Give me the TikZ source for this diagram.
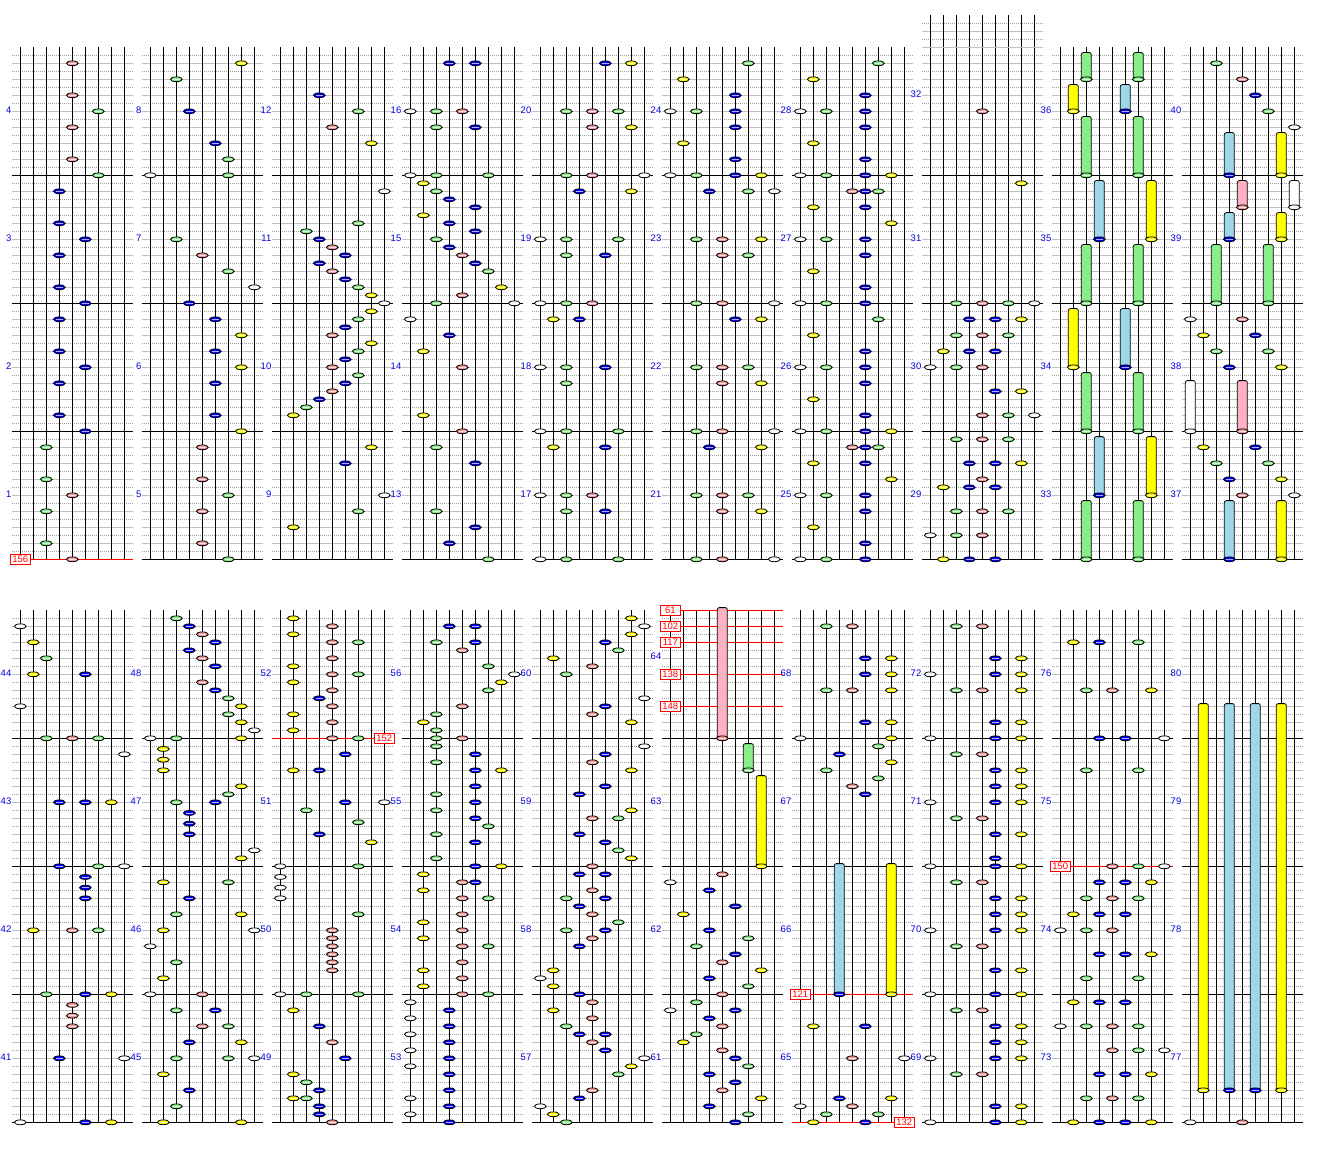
\documentclass[tikz,border=0pt]{standalone}
\usepackage{fontspec}
\setmainfont{Liberation Sans}
\definecolor{nw}{HTML}{FFFFFF}
\definecolor{ny}{HTML}{FFFF00}
\definecolor{ng}{HTML}{88EE88}
\definecolor{nb}{HTML}{0000FF}
\definecolor{np}{HTML}{F49A9A}
\definecolor{lw}{HTML}{FFFFFF}
\definecolor{ly}{HTML}{FFFF00}
\definecolor{lg}{HTML}{88EE88}
\definecolor{lb}{HTML}{9ED8E8}
\definecolor{lp}{HTML}{FFB0C4}
\definecolor{gridsolid}{HTML}{C0C0C0}
\definecolor{griddot}{HTML}{A0A0A0}
\definecolor{lblblue}{HTML}{0000E0}
\definecolor{mkred}{HTML}{FF0000}
\newcommand\lanecol[1]{\ifcase#1\or nw\or ny\or ng\or nb\or np\or nb\or ng\or ny\or nw\fi}
\newcommand\lncol[1]{\ifcase#1\or lw\or ly\or lg\or lb\or lp\or lb\or lg\or ly\or lw\fi}
\tikzset{
 notebody/.style={draw=black, line width=0.8pt},
 notestripe/.style={line width=0.8pt},
 lnbody/.style={draw=black, line width=0.8pt, rounded corners=2pt},
 lane/.style={black, line width=0.9pt},
 barline/.style={black, line width=0.9pt},
 gridline/.style={gridsolid, line width=0.9pt},
 dotline/.style={griddot, line width=0.9pt, dash pattern=on 1pt off 1pt},
 redline/.style={mkred, line width=0.9pt},
 redbox/.style={draw=mkred, fill=white, text=mkred, line width=0.9pt, inner sep=0pt, minimum width=20.5pt, minimum height=10pt, font=\fontsize{9.5}{10}\selectfont},
 mlabel/.style={text=lblblue, inner sep=0pt, anchor=east, font=\fontsize{9.5}{10}\selectfont},
}
\newcommand\NoteAt[3]{%
 \path[notebody, fill=#3] (#1,#2) ellipse [x radius=5.9pt, y radius=2.4pt];
 \draw[notestripe, #3!30!white] ({#1-3.5},#2) -- ({#1+3.5},#2);}
\newcommand\PN[3]{%
 \foreach \l/\n in {#3}{%
  \pgfmathsetmacro\xx{20.33+130*#1+13*(\l-1)}%
  \pgfmathsetmacro\yy{47.3+563*#2+8*\n}%
  \edef\tmp{\noexpand\NoteAt{\xx}{\yy}{\lanecol{\l}}}\tmp}}
\newcommand\LNdraw[5]{%
 \path[lnbody, fill=#4] ({#1-5},#2) rectangle ({#1+5},#3);
 \NoteAt{#1}{#3}{#5}}
\newcommand\LNs[3]{%
 \foreach \l/\a/\b in {#3}{%
  \pgfmathsetmacro\xx{20.33+130*#1+13*(\l-1)}%
  \pgfmathsetmacro\yt{47.3+563*#2+8*\a-2.7}%
  \pgfmathsetmacro\yh{47.3+563*#2+8*\b}%
  \edef\tmp{\noexpand\LNdraw{\xx}{\yt}{\yh}{\lncol{\l}}{\lanecol{\l}}}\tmp}}
\begin{document}
\begin{tikzpicture}[x=1pt,y=-1pt]
\useasboundingbox (0,0) rectangle (1328,1150);
\fill[white] (0,0) rectangle (1328,1150);
% grid
\foreach \p in {0,...,9}{\foreach \r in {0,1}{
 \pgfmathsetmacro\xL{12+130*\p}
 \pgfmathsetmacro\xR{132.7+130*\p}
 \pgfmathsetmacro\yO{47.3+563*\r}
 \foreach \k in {1,3,...,63}{\draw[dotline] (\xL,\yO+8*\k) -- (\xR,\yO+8*\k);}
 \foreach \k in {2,4,...,62}{\draw[gridline] (\xL,\yO+8*\k) -- (\xR,\yO+8*\k);}
 \foreach \k in {0,...,8}{\draw[lane] (\xL+8.33+13*\k,\yO) -- (\xL+8.33+13*\k,\yO+512);}
 \foreach \k in {16,32,48,64}{\draw[barline] (\xL,\yO+8*\k) -- (\xR,\yO+8*\k);}
 \foreach \j in {1,...,4}{
  \pgfmathtruncatemacro\m{40*\r+4*\p+\j}
  \pgfmathsetmacro\yl{\yO+575-128*\j}
  \ifnum\m=32 \else\ifnum\m=64 \else
  \node[mlabel] (m\m) at (\xL-0.5,\yl) {\m};
  \fi\fi}
}}
% extended top of panel 8 (measure 32 in 5/4)
\foreach \k in {-3,-1}{\draw[dotline] (922,47.3+8*\k) -- (1042.7,47.3+8*\k);}
\foreach \k in {-2,0}{\draw[gridline] (922,47.3+8*\k) -- (1042.7,47.3+8*\k);}
\foreach \k in {0,...,8}{\draw[lane] (930.33+13*\k,15.3) -- (930.33+13*\k,47.3);}
\node[mlabel] (m32) at (921.5,94.3) {32};
\node[mlabel] (m64) at (661.5,656.3) {64};
% red marker lines
\draw[redline] (12,559.3) -- (132.7,559.3);
\draw[redline] (272,738.3) -- (392.7,738.3);
\foreach \yy in {610.3,626.3,642.3,674.3,706.3}{\draw[redline] (662,\yy) -- (782.7,\yy);}
\draw[redline] (792,994.3) -- (912.7,994.3);
\draw[redline] (792,1122.3) -- (912.7,1122.3);
\draw[redline] (1052,866.3) -- (1172.7,866.3);
% ---------- top row ----------
\PN{0}{0}{5/2,5/6,5/10,5/14,7/8,7/16,4/18,4/22,6/24,4/26,4/30,6/32,4/34,4/38,6/40,4/42,4/46,6/48,3/50,3/54,5/56,3/58,3/62,5/64}
\PN{1}{0}{8/2,3/4,4/8,6/12,7/14,1/16,7/16,3/24,5/26,7/28,9/30,4/32,6/34,8/36,6/38,8/40,6/42,6/46,8/48,5/50,5/54,7/56,5/58,5/62,7/64}
\PN{2}{0}{4/6,7/8,5/10,8/12,9/18,7/22,3/23,4/24,5/25,6/26,4/27,5/28,6/29,7/30,8/31,9/32,8/33,7/34,6/35,5/36,8/37,7/38,6/39,5/40,7/41,6/42,5/43,4/44,3/45,2/46,8/50,6/52,9/56,7/58,2/60}
\PN{3}{0}{4/2,6/2,1/8,3/8,5/8,3/10,6/10,1/16,3/16,7/16,2/17,3/18,4/19,6/20,2/21,4/22,6/23,3/24,4/25,5/26,6/27,7/28,8/30,5/31,3/32,9/32,1/34,4/36,2/38,5/40,2/46,5/48,3/50,6/52,3/58,6/60,4/62,7/64}
\PN{4}{0}{6/2,8/2,3/8,5/8,7/8,5/10,8/10,3/16,5/16,9/16,4/18,8/18,1/24,3/24,7/24,3/26,6/26,1/32,3/32,5/32,2/34,4/34,1/40,3/40,6/40,3/42,1/48,3/48,7/48,2/50,6/50,1/56,3/56,5/56,3/58,6/58,1/64,3/64,7/64}
\PN{5}{0}{7/2,2/4,6/6,1/8,3/8,6/8,6/10,2/12,6/14,1/16,3/16,6/16,8/16,4/18,7/18,9/18,3/24,5/24,8/24,5/26,7/26,3/32,5/32,9/32,6/34,8/34,3/40,5/40,7/40,5/42,8/42,3/48,5/48,9/48,4/50,8/50,3/56,5/56,7/56,5/58,8/58,3/64,5/64,9/64}
\PN{6}{0}{7/2,2/4,6/6,1/8,3/8,6/8,6/10,2/12,6/14,1/16,3/16,6/16,8/16,5/18,6/18,7/18,2/20,6/20,8/22,1/24,3/24,6/24,6/26,2/28,6/30,1/32,3/32,6/32,7/34,2/36,6/38,1/40,3/40,6/40,6/42,2/44,6/46,1/48,3/48,6/48,8/48,5/50,6/50,7/50,2/52,6/52,8/54,1/56,3/56,6/56,6/58,2/60,6/62,1/64,3/64,6/64}
\PN{7}{0}{5/8,8/17,3/32,5/32,7/32,9/32,4/34,6/34,8/34,3/36,5/36,7/36,2/38,4/38,6/38,1/40,3/40,5/40,6/43,8/43,5/46,7/46,9/46,3/49,5/49,7/49,4/52,6/52,8/52,5/54,2/55,4/55,6/55,3/58,5/58,7/58,1/61,3/61,5/61,2/64,4/64,6/64}
\LNs{8}{0}{3/1/4,7/1/4,2/5/8,6/5/8,3/9/16,7/9/16,4/17/24,8/17/24,3/25/32,7/25/32,2/33/40,6/33/40,3/41/48,7/41/48,4/49/56,8/49/56,3/57/64,7/57/64}
\LNs{9}{0}{4/11/16,8/11/16,5/17/20,9/17/20,4/21/24,8/21/24,3/25/32,7/25/32,1/42/48,5/42/48,4/57/64,8/57/64}
\PN{9}{0}{3/2,5/4,6/6,7/8,9/10,1/34,5/34,2/36,6/36,3/38,7/38,4/40,8/40,2/50,6/50,3/52,7/52,4/54,8/54,5/56,9/56}
% ---------- bottom row ----------
\PN{0}{1}{1/2,2/4,3/6,2/8,6/8,1/12,3/16,5/16,7/16,9/18,4/24,6/24,8/24,4/32,7/32,9/32,6/33.333,6/34.667,6/36,2/40,5/40,7/40,3/48,6/48,8/48,5/49.333,5/50.667,5/52,4/56,9/56,1/64,6/64,8/64}
\PN{1}{1}{3/1,4/2,5/3,6/4,4/5,5/6,6/7,5/9,6/10,7/11,8/12,7/13,8/14,9/15,1/16,3/16,8/16,2/17.333,2/18.667,2/20,8/22,7/23,3/24,6/24,4/25.333,4/26.667,4/28,9/30,8/31,2/34,7/34,4/36,3/38,8/38,2/40,9/40,1/42,3/44,2/46,1/48,5/48,3/50,6/50,5/52,7/52,4/54,8/54,3/56,7/56,9/56,2/58,4/60,3/62,2/64,8/64}
\PN{2}{1}{2/1,5/2,2/3,5/4,7/4,5/6,2/7,5/8,7/8,2/9,5/10,4/11,5/12,2/13,5/14,2/15,5/16,7/16,6/18,2/20,4/20,9/24,6/24,3/25,7/26.5,4/28,8/29,1/32,7/32,1/33.333,1/34.667,1/36,7/38,5/40,5/41,5/42,5/43,5/44,5/45,1/48,3/48,7/48,2/50,4/52,5/54,6/56,2/58,3/59,4/60,2/61,3/61,4/62,4/63,5/64}
\PN{3}{1}{4/2,6/2,3/4,6/4,5/5,9/8,7/7,8/9,7/10,5/12,3/13,2/14,3/15,3/16,5/16,3/17,6/18,3/19,6/20,8/20,6/22,3/23,6/24,3/25,6/26,7/27,3/28,6/29,3/31,6/32,8/32,2/33,5/34,6/34,2/35,5/36,7/36,5/38,2/39,5/40,2/41,5/42,7/42,5/44,2/45,5/46,2/47,5/48,7/48,1/49,4/50,1/51,4/52,1/53,4/54,1/55,4/56,1/57,4/58,4/60,1/61,4/62,1/63,4/64}
\PN{4}{1}{8/1,9/2,8/3,6/4,7/5,2/6,5/7,3/8,9/11,6/12,5/13,8/14,9/17,6/18,5/19,8/20,6/22,4/23,8/25,5/26,7/26,4/28,6/29,7/30,8/31,5/32,4/33,6/33,3/36,5/35,4/37,6/36,5/38,7/39,6/40,3/40,5/41,4/42,2/45,1/46,2/47,4/48,5/49,2/50,5/51,3/52,4/53,6/53,5/54,6/55,8/57,9/56,7/58,5/60,4/61,1/62,2/63,3/64}
\LNs{5}{1}{5/0/16,7/17/20,8/21/32}
\PN{5}{1}{1/34,5/33,4/35,2/38,6/37,4/40,7/41,3/42,6/43,5/44,8/45,4/46,7/47,5/48,3/49,6/50,1/50,4/51,5/52,3/53,2/54,5/55,6/56,7/57,4/58,6/59,5/60,8/61,4/62,7/63,6/64}
\LNs{6}{1}{4/32/48,8/32/48}
\PN{6}{1}{3/2,5/2,6/6,8/6,6/8,8/8,3/10,5/10,8/10,6/14,8/14,1/16,8/16,7/17,4/18,8/19,3/20,7/21,5/22,6/23,2/52,6/52,5/56,9/56,4/61,8/61,1/62,5/62,3/63,7/63,2/64,6/64}
\PN{7}{1}{3/2,5/2,6/6,8/6,1/8,6/8,8/8,3/10,5/10,8/10,6/14,8/14,1/16,6/16,8/16,3/18,5/18,6/20,8/20,6/22,8/22,1/24,6/24,8/24,3/26,5/26,6/28,8/28,6/31,1/32,6/32,8/32,3/34,5/34,6/36,8/36,6/38,8/38,1/40,6/40,8/40,3/42,5/42,6/45,8/45,1/48,6/48,8/48,3/50,5/50,6/52,8/52,6/54,8/54,1/56,6/56,8/56,3/58,5/58,6/62,8/62,1/64,6/64,8/64}
\PN{8}{1}{2/4,4/4,7/4,3/10,5/10,8/10,4/16,6/16,9/16,3/20,7/20,5/32,7/32,9/32,4/34,6/34,8/34,3/36,5/36,7/36,2/38,4/38,6/38,1/40,3/40,5/40,4/43,6/43,8/43,3/46,7/46,2/49,4/49,6/49,1/52,3/52,5/52,7/52,5/55,7/55,9/55,4/58,6/58,8/58,3/61,5/61,7/61,2/64,4/64,6/64,8/64}
\LNs{9}{1}{2/12/60,4/12/60,6/12/60,8/12/60}
\PN{9}{1}{1/64,5/64}
% red marker boxes
\node[redbox] (r156) at (20.33,559.3) {156};
\node[redbox] (r152) at (384.33,738.3) {152};
\node[redbox] (r61) at (670.33,610.3) {61};
\node[redbox] (r102) at (670.33,626.3) {102};
\node[redbox] (r117) at (670.33,642.3) {117};
\node[redbox] (r138) at (670.33,674.3) {138};
\node[redbox] (r148) at (670.33,706.3) {148};
\node[redbox] (r121) at (800.33,994.3) {121};
\node[redbox] (r132) at (904.33,1122.3) {132};
\node[redbox] (r150) at (1060.33,866.3) {150};
\end{tikzpicture}
\end{document}
